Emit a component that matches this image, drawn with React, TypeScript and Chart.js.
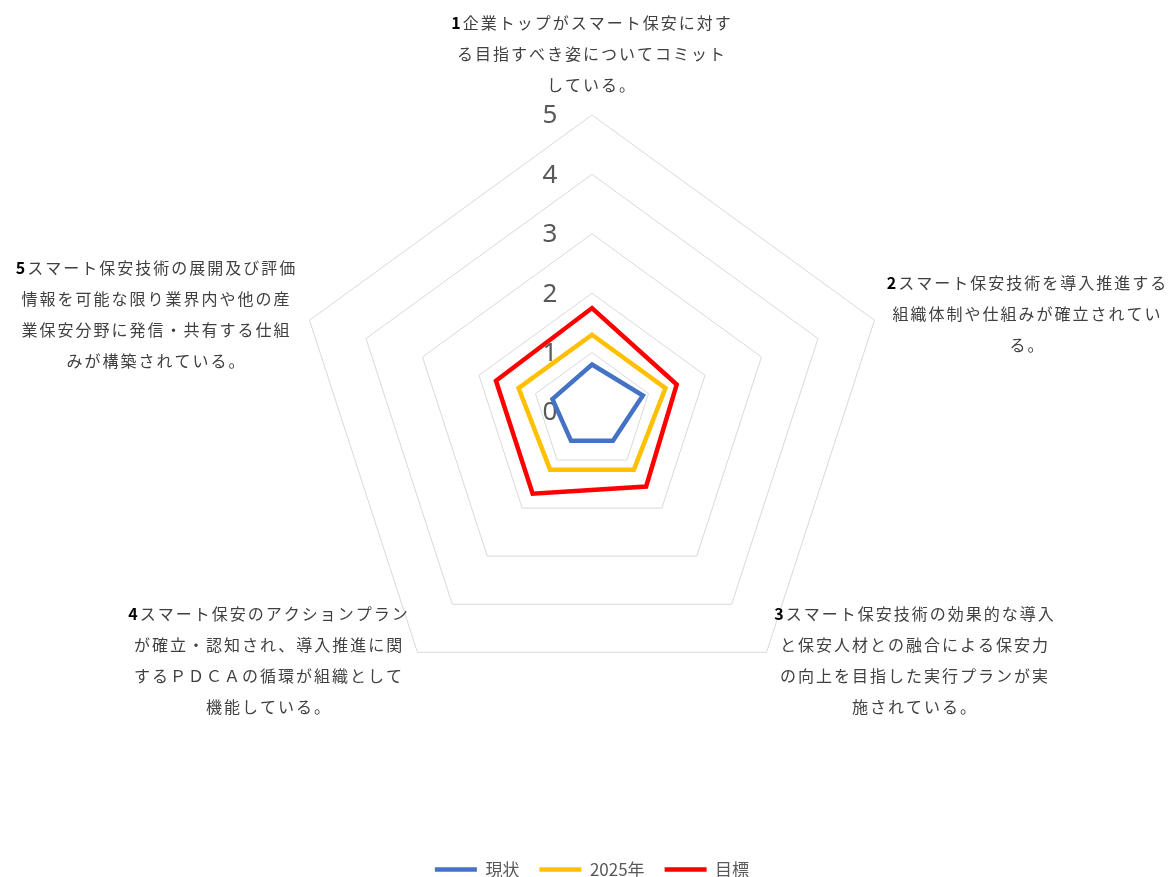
import React, { useEffect, useRef } from "react";
import { Chart, registerables } from "chart.js";

Chart.register(...registerables);

// ---- data ----
const categories: string[][] = [
  ["1企業トップがスマート保安に対す", "る目指すべき姿についてコミット", "している。"],
  ["2スマート保安技術を導入推進する", "組織体制や仕組みが確立されてい", "る。"],
  ["3スマート保安技術の効果的な導入", "と保安人材との融合による保安力", "の向上を目指した実行プランが実", "施されている。"],
  ["4スマート保安のアクションプラン", "が確立・認知され、導入推進に関", "するＰＤＣＡの循環が組織として", "機能している。"],
  ["5スマート保安技術の展開及び評価", "情報を可能な限り業界内や他の産", "業保安分野に発信・共有する仕組", "みが構築されている。"],
];
const seriesNames = ["現状", "2025年", "目標"];
const currentValues = [0.8, 0.9, 0.6, 0.6, 0.7];
const values2025 = [1.3, 1.3, 1.2, 1.2, 1.3];
const targetValues = [1.75, 1.5, 1.55, 1.7, 1.7];
const tickValues = [0, 1, 2, 3, 4, 5];

const JP_FONT = '"Noto Sans CJK JP", "Noto Sans", sans-serif';

const tickLabelPlugin = {
  id: "tickLabelPlugin",
  beforeDatasetsDraw(chart: any) {
    const scale = chart.scales.r;
    const ctx = chart.ctx as CanvasRenderingContext2D;
    ctx.save();
    ctx.font = '26px "Noto Sans", sans-serif';
    ctx.fillStyle = "#595959";
    ctx.textAlign = "center";
    ctx.textBaseline = "middle";
    tickValues.forEach((v) => {
      const d = scale.getDistanceFromCenterForValue(v);
      ctx.fillText(String(v), scale.xCenter - 42, scale.yCenter - d + 1);
    });
    ctx.restore();
  },
};

const pointLabelPlugin = {
  id: "pointLabelPlugin",
  afterDatasetsDraw(chart: any) {
    const scale = chart.scales.r;
    const ctx = chart.ctx as CanvasRenderingContext2D;
    const labels = chart.data.labels as string[][];
    const lineH = 31;
    const normalFont = `16px ${JP_FONT}`;
    const boldFont = `bold 16px ${JP_FONT}`;
    ctx.save();
    (ctx as any).letterSpacing = "2px";
    ctx.textBaseline = "middle";
    ctx.textAlign = "left";

    const measureLine = (text: string, first: boolean) => {
      if (first && /^\d/.test(text)) {
        ctx.font = boldFont;
        const wd = ctx.measureText(text[0]).width;
        ctx.font = normalFont;
        const wr = ctx.measureText(text.slice(1)).width;
        return { wd, wr, total: wd + wr };
      }
      ctx.font = normalFont;
      const w = ctx.measureText(text).width;
      return { wd: 0, wr: w, total: w };
    };

    labels.forEach((lines, i) => {
      const pad = i === 0 ? 15 : 13;
      const pos = scale.getPointPosition(i, scale.drawingArea + pad);
      const widths = lines.map((t, k) => measureLine(t, k === 0));
      const blockW = Math.max(...widths.map((w) => w.total));
      const n = lines.length;
      let cx = pos.x;
      let firstY: number;
      if (i === 0) {
        firstY = pos.y - lineH / 2 - (n - 1) * lineH;
      } else {
        if (i === 1 || i === 2) cx = pos.x + blockW / 2;
        else cx = pos.x - blockW / 2;
        firstY = pos.y - ((n - 1) / 2) * lineH - 2;
      }
      lines.forEach((t, k) => {
        const y = firstY + k * lineH;
        const m = widths[k];
        let x = cx - m.total / 2;
        if (k === 0 && /^\d/.test(t)) {
          ctx.font = boldFont;
          ctx.fillStyle = "#000000";
          ctx.fillText(t[0], x, y);
          x += m.wd;
          ctx.font = normalFont;
          ctx.fillStyle = "#404040";
          ctx.fillText(t.slice(1), x, y);
        } else {
          ctx.font = normalFont;
          ctx.fillStyle = "#404040";
          ctx.fillText(t, x, y);
        }
      });
    });
    ctx.restore();
  },
};

export default function App() {
  const canvasRef = useRef<HTMLCanvasElement | null>(null);

  useEffect(() => {
    if (!canvasRef.current) return;
    const mk = (label: string, data: number[], color: string) => ({
      label,
      data,
      borderColor: color,
      backgroundColor: color,
      borderWidth: 4.5,
      borderCapStyle: "round" as const,
      borderJoinStyle: "miter" as const,
      fill: false,
      pointRadius: 0,
      pointHoverRadius: 0,
      tension: 0,
    });
    const chart = new Chart(canvasRef.current, {
      type: "radar",
      data: {
        labels: categories as any,
        datasets: [
          mk(seriesNames[0], currentValues, "#4472C4"),
          mk(seriesNames[1], values2025, "#FFC000"),
          mk(seriesNames[2], targetValues, "#FF0000"),
        ],
      },
      options: {
        responsive: false,
        animation: false,
        layout: { padding: { left: 295, right: 281, top: 0, bottom: -11 } },
        scales: {
          r: {
            min: 0,
            max: 5,
            ticks: { stepSize: 1, display: false },
            pointLabels: { display: false },
            angleLines: { display: false },
            grid: { color: "#d9d9d9", lineWidth: 1 },
          },
        },
        plugins: {
          legend: {
            position: "bottom",
            title: {
              display: true,
              text: "",
              font: { size: 10, lineHeight: 1.2 },
              padding: { top: 0, bottom: 4 },
            },
            labels: {
              usePointStyle: true,
              pointStyle: "line",
              pointStyleWidth: 42,
              boxHeight: 17,
              padding: 20,
              color: "#595959",
              font: { size: 17, family: JP_FONT },
            },
          },
          tooltip: { enabled: false },
        },
      },
      plugins: [tickLabelPlugin, pointLabelPlugin],
    });
    return () => chart.destroy();
  }, []);

  return (
    <div style={{ position: "fixed", left: 0, top: 0, width: 1170, height: 877, background: "#fff" }}>
      <canvas ref={canvasRef} width={1170} height={877} style={{ display: "block" }} />
    </div>
  );
}
